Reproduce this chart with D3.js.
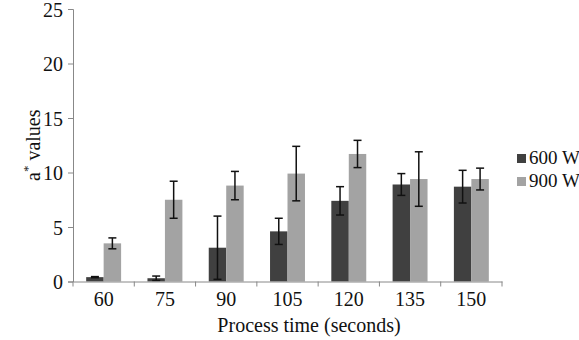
<!DOCTYPE html>
<html>
<head>
<meta charset="utf-8">
<script src="https://cdn.jsdelivr.net/npm/d3@7"></script>
</head>
<body style="margin:0">
<script>
const times = ['60', '75', '90', '105', '120', '135', '150'];
const series = ['600 W', '900 W'];
const values600 = [0.4, 0.3, 3.1, 4.6, 7.4, 8.9, 8.7];
const errors600 = [0.05, 0.2, 2.9, 1.2, 1.3, 1.0, 1.5];
const values900 = [3.5, 7.5, 8.8, 9.9, 11.7, 9.4, 9.4];
const errors900 = [0.5, 1.7, 1.3, 2.5, 1.25, 2.5, 1.0];
const yTicks = [0, 5, 10, 15, 20, 25];
const colors = ['#404040', '#a3a3a3'];

const width = 579, height = 340;
const margin = { top: 9, left: 73, right: 77, bottom: 58.5 };

const svg = d3.select('body').append('svg')
  .attr('width', width)
  .attr('height', height)
  .attr('font-family', 'Times New Roman')
  .style('display', 'block');

const x = d3.scaleBand()
  .domain(times)
  .range([margin.left, width - margin.right])
  .paddingInner(0.43)
  .paddingOuter(0.215);

const xOuter = d3.scaleBand()
  .domain(times)
  .range([margin.left, width - margin.right]);

const xInner = d3.scaleBand()
  .domain(series)
  .range([0, x.bandwidth()]);

const y = d3.scaleLinear()
  .domain([0, 25])
  .range([height - margin.bottom, margin.top]);

const rows = times.map((t, i) => [
  { t, s: series[0], v: values600[i], e: errors600[i] },
  { t, s: series[1], v: values900[i], e: errors900[i] }
]).flat();

// bars
svg.append('g').selectAll('rect').data(rows).enter()
  .append('rect')
    .attr('x', d => x(d.t) + xInner(d.s))
    .attr('y', d => y(d.v))
    .attr('width', xInner.bandwidth())
    .attr('height', d => y(0) - y(d.v))
    .attr('fill', d => colors[series.indexOf(d.s)]);

// error bars
const eb = svg.append('g').attr('stroke', '#111').attr('stroke-width', 1.5);
rows.forEach(d => {
  const cx = x(d.t) + xInner(d.s) + xInner.bandwidth() / 2;
  const lo = y(Math.max(0, d.v - d.e)), hi = y(d.v + d.e);
  eb.append('line').attr('x1', cx).attr('x2', cx).attr('y1', lo).attr('y2', hi);
  eb.append('line').attr('x1', cx - 4).attr('x2', cx + 4).attr('y1', hi).attr('y2', hi);
  eb.append('line').attr('x1', cx - 4).attr('x2', cx + 4).attr('y1', lo).attr('y2', lo);
});

// y axis
const yAxis = svg.append('g')
  .attr('transform', `translate(${margin.left},0)`)
  .call(d3.axisLeft(y).tickValues(yTicks).tickSize(5).tickPadding(5))
  .attr('font-family', null)
  .attr('font-size', 20);
yAxis.selectAll('path, line').attr('stroke', '#888');
yAxis.selectAll('text').attr('fill', '#111').attr('dy', '0.36em');

// x axis
const xAxis = svg.append('g')
  .attr('transform', `translate(0,${y(0)})`)
  .call(d3.axisBottom(xOuter).tickSize(0).tickPadding(10))
  .attr('font-family', null)
  .attr('font-size', 20);
xAxis.select('path').attr('stroke', '#888');
xAxis.selectAll('text').attr('fill', '#111');
xAxis.selectAll('line.sep').data(d3.range(times.length + 1)).enter()
  .append('line')
    .attr('class', 'sep')
    .attr('x1', i => margin.left + i * xOuter.step())
    .attr('x2', i => margin.left + i * xOuter.step())
    .attr('y1', 0).attr('y2', 5)
    .attr('stroke', '#888');

// axis titles
svg.append('text')
  .attr('x', 309)
  .attr('y', 332)
  .attr('text-anchor', 'middle')
  .attr('font-size', 20)
  .attr('fill', '#111')
  .text('Process time (seconds)');

const yt = svg.append('text')
  .attr('transform', `translate(40,${(margin.top + y(0)) / 2}) rotate(-90)`)
  .attr('text-anchor', 'middle')
  .attr('font-size', 20)
  .attr('fill', '#111');
yt.append('tspan').text('a');
yt.append('tspan').attr('font-size', 13).attr('dy', -8).text('*');
yt.append('tspan').attr('dy', 8).text(' values');

// legend
const legend = svg.append('g').attr('transform', 'translate(517,154)');
series.forEach((s, i) => {
  const g = legend.append('g').attr('transform', `translate(0,${i * 23})`);
  g.append('rect').attr('width', 9).attr('height', 9).attr('fill', colors[i]);
  g.append('text').attr('x', 12).attr('y', 10)
    .attr('font-size', 19).attr('fill', '#111').text(s);
});
</script>
</body>
</html>
